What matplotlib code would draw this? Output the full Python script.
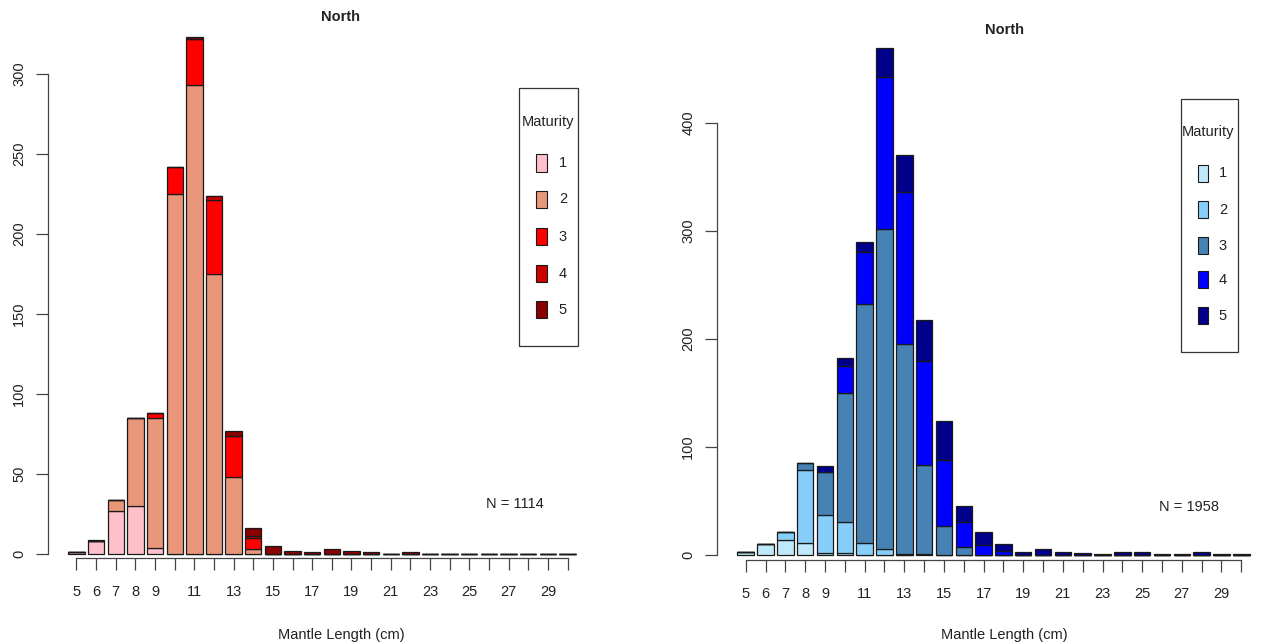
import matplotlib
matplotlib.use("Agg")
import matplotlib.pyplot as plt
from matplotlib.patches import Rectangle

plt.rcParams['font.family'] = ['Liberation Sans', 'DejaVu Sans']

# mantle length classes (cm)
lengths = list(range(5, 31))
tick_labels = ['5', '6', '7', '8', '9', '', '11', '', '13', '', '15', '', '17', '',
               '19', '', '21', '', '23', '', '25', '', '27', '', '29', '']

# counts per maturity stage, left panel (reds)
red_m1 = [1, 8, 27, 30, 4, 0, 0, 0, 0, 0, 0, 0, 0, 0, 0, 0, 0, 0, 0, 0, 0, 0, 0, 0, 0, 0]
red_m2 = [0, 0, 7, 55, 81, 225, 293, 175, 48, 3, 0, 0, 0, 0, 0, 0, 0, 0, 0, 0, 0, 0, 0, 0, 0, 0]
red_m3 = [0, 0, 0, 0, 3, 17, 29, 46, 26, 7, 0, 0, 0, 0, 0, 0, 0, 0, 0, 0, 0, 0, 0, 0, 0, 0]
red_m4 = [0, 0, 0, 0, 0, 0, 0, 3, 0, 1, 0, 0, 0, 0, 0, 0, 0, 0, 0, 0, 0, 0, 0, 0, 0, 0]
red_m5 = [0, 1, 0, 0, 0, 0, 1, 0, 3, 5, 5, 2, 1, 3, 2, 1, 0, 1, 0, 0, 0, 0, 0, 0, 0, 0]
red_n = 1114

# counts per maturity stage, right panel (blues)
blue_m1 = [3, 10, 14, 11, 2, 2, 0, 0, 0, 1, 0, 0, 0, 0, 0, 0, 0, 0, 0, 0, 0, 0, 0, 0, 0, 0]
blue_m2 = [0, 0, 7, 68, 35, 29, 11, 6, 1, 0, 0, 0, 0, 0, 0, 0, 0, 0, 0, 0, 0, 0, 0, 0, 0, 0]
blue_m3 = [0, 0, 0, 6, 40, 119, 221, 296, 194, 82, 27, 7, 0, 0, 0, 0, 0, 0, 0, 0, 0, 0, 0, 0, 0, 0]
blue_m4 = [0, 0, 0, 0, 0, 25, 49, 141, 141, 97, 61, 24, 9, 4, 0, 0, 0, 0, 0, 0, 0, 0, 0, 0, 0, 0]
blue_m5 = [0, 0, 0, 0, 5, 7, 9, 26, 34, 38, 36, 14, 12, 6, 3, 6, 3, 2, 1, 3, 3, 1, 1, 3, 1, 1]
blue_n = 1958

stages = ['1', '2', '3', '4', '5']
red_cols = ['#FFC0CB', '#E9967A', '#FF0000', '#CD0000', '#8B0000']
blue_cols = ['#BFE9FA', '#87CEFA', '#4682B4', '#0000FF', '#00008B']

W, H = 1275, 643
AX_COL = '#444444'
TXT_COL = '#222222'
FS = 10.5

fig = plt.figure(figsize=(W / 100, H / 100), dpi=100)


def fx(x):
    return x / W


def fy(y):
    return 1 - y / H


def panel(rect_px, layers, cols, y0_px, px_per_unit, yticks):
    l, t, r, b = rect_px
    ax = fig.add_axes([fx(l), fy(b), fx(r - l), (b - t) / H])
    # R style bar positions: width 1, space 0.2
    xs = [0.7 + 1.2 * i for i in range(len(lengths))]
    bottom = [0] * len(lengths)
    for vals, c in zip(layers, cols):
        ax.bar(xs, vals, width=1, bottom=bottom, color=c, edgecolor='#1a1a1a', linewidth=0.9)
        bottom = [a + v for a, v in zip(bottom, vals)]
    ax.set_xlim(-1.04, 32.44)
    ax.set_ylim(-(b - y0_px) / px_per_unit, (y0_px - t) / px_per_unit)
    for s in ['top', 'right']:
        ax.spines[s].set_visible(False)
    ax.spines['left'].set_bounds(yticks[0], yticks[-1])
    ax.spines['bottom'].set_bounds(xs[0], xs[-1])
    for s in ['left', 'bottom']:
        ax.spines[s].set_color(AX_COL)
        ax.spines[s].set_linewidth(0.9)
    ax.set_yticks(yticks)
    ax.set_xticks(xs)
    ax.set_xticklabels(tick_labels)
    ax.tick_params(axis='both', length=8.6, width=0.9, color=AX_COL,
                   labelcolor=TXT_COL, labelsize=FS)
    ax.tick_params(axis='y', pad=7, labelrotation=90)
    ax.tick_params(axis='x', pad=10.5)
    for lab in ax.get_yticklabels():
        lab.set_va('center')
    ax.patch.set_visible(False)
    return ax


axL = panel((48, 10, 596, 558), [red_m1, red_m2, red_m3, red_m4, red_m5], red_cols,
            554, 1.6, [0, 50, 100, 150, 200, 250, 300])
axR = panel((717, 10, 1270, 560), [blue_m1, blue_m2, blue_m3, blue_m4, blue_m5], blue_cols,
            555, 1.08, [0, 100, 200, 300, 400])

# titles, axis titles, N labels
fig.text(fx(340), fy(17), 'North', ha='center', va='center', fontsize=10.5,
         fontweight='bold', color=TXT_COL)
fig.text(fx(1004), fy(30), 'North', ha='center', va='center', fontsize=10.5,
         fontweight='bold', color=TXT_COL)
fig.text(fx(341), fy(635), 'Mantle Length (cm)', ha='center', va='center',
         fontsize=FS, color=TXT_COL)
fig.text(fx(1004), fy(635), 'Mantle Length (cm)', ha='center', va='center',
         fontsize=FS, color=TXT_COL)
fig.text(fx(515), fy(504), 'N = %d' % red_n, ha='center', va='center',
         fontsize=FS, color=TXT_COL)
fig.text(fx(1189), fy(507), 'N = %d' % blue_n, ha='center', va='center',
         fontsize=FS, color=TXT_COL)


def legend_box(box, title_xy, sw_x, lab_x, ys, cols):
    x0, y0, x1, y1 = box
    fig.patches.append(Rectangle((fx(x0), fy(y1)), fx(x1 - x0), (y1 - y0) / H,
                                 transform=fig.transFigure, fill=False,
                                 edgecolor='#333333', linewidth=0.9))
    fig.text(fx(title_xy[0]), fy(title_xy[1]), 'Maturity', ha='center', va='center',
             fontsize=FS, color=TXT_COL)
    for y, c, s in zip(ys, cols, stages):
        fig.patches.append(Rectangle((fx(sw_x[0]), fy(y + 8.5)), fx(sw_x[1] - sw_x[0]), 17 / H,
                                     transform=fig.transFigure, facecolor=c,
                                     edgecolor='#1a1a1a', linewidth=0.8))
        fig.text(fx(lab_x), fy(y), s, ha='center', va='center', fontsize=FS, color=TXT_COL)


legend_box((519, 88, 578, 346), (548, 122), (536, 546.5), 563,
           [163, 199.5, 236.5, 273.5, 310], red_cols)
legend_box((1181, 99, 1238, 352), (1208, 132), (1197.5, 1207.5), 1223,
           [173, 209.5, 245.5, 279.5, 315.5], blue_cols)

fig.savefig('out.png', dpi=100)
